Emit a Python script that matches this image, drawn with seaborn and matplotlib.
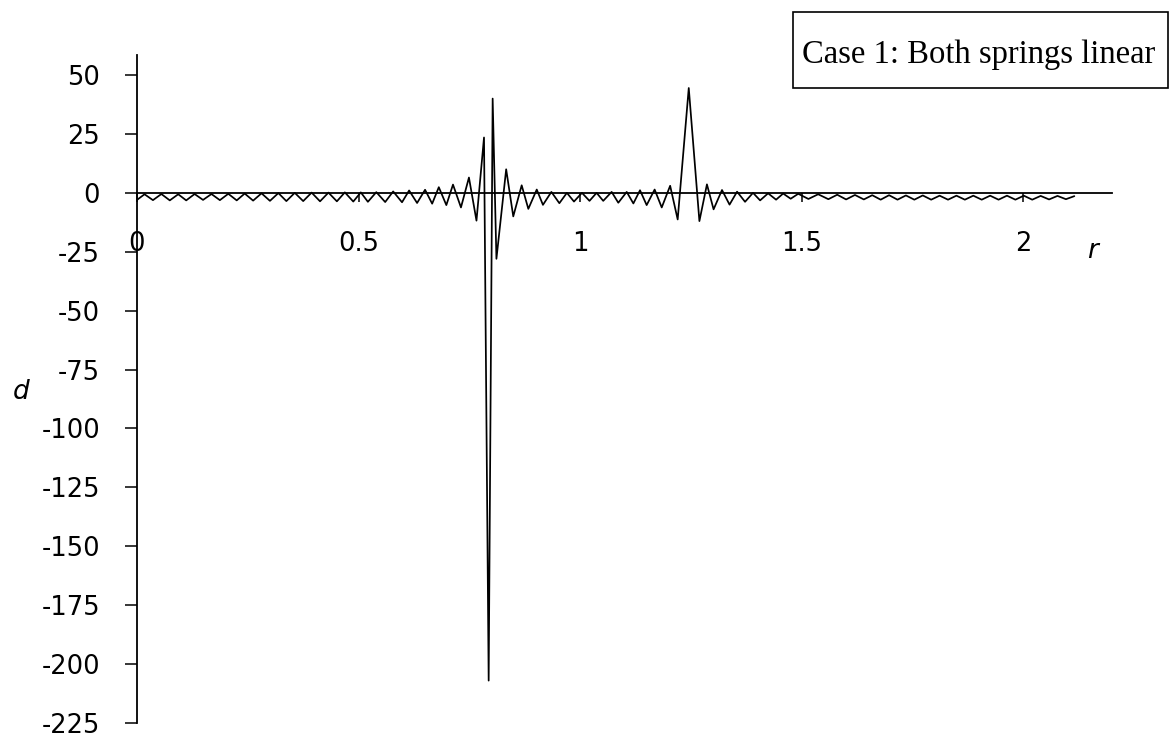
import matplotlib
matplotlib.use("Agg")
import matplotlib.pyplot as plt
from matplotlib.patches import Rectangle
import pandas as pd
import seaborn as sns

# Frequency ratio r and response d (extrema of the oscillating response)
r_values = [
    0.000, 0.017, 0.036, 0.055, 0.074, 0.093, 0.111, 0.130, 0.149, 0.168,
    0.187, 0.206, 0.225, 0.243, 0.262, 0.281, 0.300, 0.319, 0.337, 0.356,
    0.375, 0.394, 0.413, 0.432, 0.451, 0.469, 0.488, 0.505,
    0.521, 0.540, 0.560, 0.578, 0.598, 0.614, 0.632, 0.650, 0.666, 0.681,
    0.698, 0.713, 0.731, 0.749, 0.766, 0.783, 0.7935, 0.8025, 0.811, 0.833,
    0.849, 0.868, 0.883, 0.902, 0.916, 0.935, 0.953, 0.970, 0.986, 1.004,
    1.021, 1.037, 1.052, 1.071, 1.086, 1.105, 1.120, 1.135, 1.150, 1.168,
    1.184, 1.203, 1.220, 1.245, 1.269, 1.286, 1.301, 1.320, 1.337, 1.354,
    1.372, 1.390, 1.406, 1.424, 1.442, 1.458, 1.475, 1.492,
    1.515, 1.537, 1.560, 1.580, 1.600, 1.620, 1.640, 1.659, 1.678, 1.697,
    1.716, 1.735, 1.754, 1.773, 1.792, 1.811, 1.830, 1.849, 1.868, 1.887,
    1.906, 1.925, 1.944, 1.963, 1.982, 2.001, 2.020, 2.039, 2.058, 2.077,
    2.096, 2.115,
]
d_values = [
    -3.0, -0.6, -3.1, -0.5, -3.2, -0.6, -3.2, -0.5, -3.0, -0.5,
    -3.1, -0.4, -3.2, -0.3, -3.3, -0.2, -3.4, -0.1, -3.5, 0.0,
    -3.5, 0.1, -3.6, 0.1, -3.6, 0.2, -3.7, 0.2,
    -3.8, 0.3, -3.9, 0.6, -4.0, 1.0, -4.3, 1.3, -4.6, 2.4,
    -5.2, 3.5, -6.2, 6.5, -11.8, 23.5, -207.0, 40.0, -28.0, 10.0,
    -10.0, 3.2, -6.8, 1.4, -5.1, 0.4, -4.4, 0.0, -3.7, 0.0,
    -3.4, 0.0, -3.4, 0.4, -4.2, 0.4, -4.5, 1.1, -5.2, 1.4,
    -6.2, 3.0, -11.3, 44.5, -12.0, 3.6, -7.0, 1.2, -5.0, 0.5,
    -3.8, 0.0, -3.2, -0.2, -2.9, -0.3, -2.5, -0.4,
    -2.6, -0.6, -2.7, -0.8, -2.8, -0.9, -2.8, -1.0, -2.9, -1.0,
    -2.9, -1.1, -2.9, -1.1, -2.9, -1.2, -2.9, -1.2, -2.9, -1.2,
    -2.9, -1.2, -2.9, -1.2, -2.9, -1.2, -2.9, -1.3, -2.8, -1.3,
    -2.7, -1.4,
]

x_ticks = [0, 0.5, 1, 1.5, 2]
x_tick_labels = ["0", "0.5", "1", "1.5", "2"]
y_ticks = [50, 25, 0, -25, -50, -75, -100, -125, -150, -175, -200, -225]
y_tick_labels = ["50", "25", "0", "-25", "-50", "-75", "-100", "-125",
                 "-150", "-175", "-200", "-225"]
box_title = "Case 1: Both springs linear"

df = pd.DataFrame({"r": r_values, "d": d_values})

sns.set_theme(style="white")
plt.rcParams["font.family"] = ["DejaVu Sans"]
plt.rcParams["axes.unicode_minus"] = False

W, H = 1176, 741
fig = plt.figure(figsize=(W / 100, H / 100), dpi=100)
fig.patch.set_facecolor("white")
ax = fig.add_axes([137 / W, 1 - 723 / H, 975 / W, 668 / H])
ax.set_facecolor("white")

sns.lineplot(data=df, x="r", y="d", ax=ax, color="black", linewidth=1.25,
             estimator=None, sort=False)

ax.set_xlim(0, 2.2)
ax.set_ylim(-225, 58.5)

for side in ("top", "right"):
    ax.spines[side].set_visible(False)
ax.spines["left"].set_position(("data", 0))
ax.spines["bottom"].set_position(("data", 0))
for side in ("left", "bottom"):
    ax.spines[side].set_color("black")
    ax.spines[side].set_linewidth(1.3)

ax.set_xticks(x_ticks)
ax.set_xticklabels(x_tick_labels)
ax.set_yticks(y_ticks)
ax.set_yticklabels(y_tick_labels)
ax.tick_params(axis="x", direction="out", length=6.5, width=1.1,
               color="black", pad=21, labelsize=18.5, labelcolor="black",
               bottom=True)
ax.tick_params(axis="y", direction="out", length=8.5, width=1.1,
               color="black", pad=18, labelsize=18.5, labelcolor="black",
               left=True)
ax.set_xlabel("")
ax.set_ylabel("")
ax.grid(False)

# Axis names drawn as free text
fig.text(21 / W, 1 - 392 / H, "d", fontsize=19, style="italic",
         ha="center", va="center", color="black")
fig.text(1093 / W, 1 - 251 / H, "r", fontsize=19, style="italic",
         ha="center", va="center", color="black")

# Case caption box
fig.add_artist(Rectangle((793 / W, 1 - 88 / H), (1168 - 793) / W, 76 / H,
                         transform=fig.transFigure, fill=False,
                         edgecolor="black", linewidth=1.2))
fig.text(802 / W, 1 - 63 / H, box_title, fontsize=23.5,
         family=["Liberation Serif"], ha="left", va="baseline",
         color="black")

fig.savefig("out.png", dpi=100, facecolor="white")
